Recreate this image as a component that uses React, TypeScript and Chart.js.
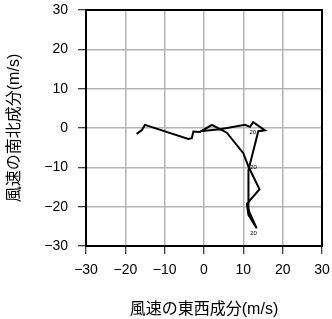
import React, { useEffect, useRef } from "react";
import { Chart, registerables } from "chart.js";

Chart.register(...registerables);

// Wind components (m/s): east-west (u) and north-south (v)
const uWind = [-17.1, -15.8, -15.0, -4.0, -3.1, -2.7, -1.0, 2.0, 5.8, 10.0, 11.3, 14.1, 10.9, 11.3, 13.4, 11.6, 11.4, 11.3, 13.8, 15.5, 12.5, 11.7, 10.4, 4.1, -1.0];
const vWind = [-1.5, -0.5, 0.8, -2.8, -2.6, -0.9, -1.0, 0.8, -1.2, -6.4, -9.8, -15.6, -19.3, -22.1, -25.5, -21.5, -20.8, -10.7, -0.8, -0.6, 1.5, 0.3, 0.8, -0.3, -0.8];

// small annotation labels along the trace
const noteText = ["20", "20", "20"];
const noteU = [12.6, 12.6, 12.4];
const noteV = [-9.9, -26.7, -1.2];

const axisTicks = [-30, -20, -10, 0, 10, 20, 30];

const xTitle = "風速の東西成分(m/s)";
const yTitle = "風速の南北成分(m/s)";

const FONT = "'Liberation Sans', Arial, 'Noto Sans CJK JP', sans-serif";

const framePlugin = {
  id: "frame",
  afterDatasetsDraw(chart: any) {
    const { ctx, chartArea, scales } = chart;
    ctx.save();
    ctx.fillStyle = "#000";
    ctx.font = `6px ${FONT}`;
    ctx.textAlign = "center";
    ctx.textBaseline = "middle";
    noteText.forEach((t, i) => {
      ctx.fillText(t, scales.x.getPixelForValue(noteU[i]), scales.y.getPixelForValue(noteV[i]));
    });
    ctx.strokeStyle = "#000";
    ctx.lineWidth = 2;
    ctx.strokeRect(chartArea.left, chartArea.top, chartArea.right - chartArea.left, chartArea.bottom - chartArea.top);
    ctx.restore();
  },
};

export default function App() {
  const ref = useRef<HTMLCanvasElement | null>(null);
  useEffect(() => {
    if (!ref.current) return;
    const fmt = (v: any) => {
      const n = Number(v);
      return n < 0 ? "\u2212" + Math.abs(n) : String(n);
    };
    const chart = new Chart(ref.current, {
      type: "scatter",
      data: {
        datasets: [
          {
            data: uWind.map((u, i) => ({ x: u, y: vWind[i] })),
            showLine: true,
            borderColor: "#000",
            borderWidth: 2,
            pointRadius: 0,
            tension: 0,
            fill: false,
          },
        ],
      },
      options: {
        animation: false,
        responsive: false,
        maintainAspectRatio: false,
        layout: { padding: { top: 10, right: 10, left: 0, bottom: 0 } },
        plugins: { legend: { display: false }, tooltip: { enabled: false } },
        scales: {
          x: {
            type: "linear",
            min: -30,
            max: 30,
            afterBuildTicks: (s: any) => {
              s.ticks = axisTicks.map((v) => ({ value: v }));
            },
            afterFit: (s: any) => {
              s.height = 73;
              s.paddingLeft = 0;
              s.paddingRight = 0;
            },
            grid: { color: "#b4b4b4", lineWidth: 1.5, tickColor: "#000", tickLength: 8, tickWidth: 1 },
            border: { display: true, color: "#000", width: 2 },
            ticks: { color: "#000", font: { family: FONT, size: 14 }, padding: 8, maxRotation: 0, callback: fmt },
            title: { display: true, text: xTitle, color: "#000", font: { family: FONT, size: 16 }, padding: { top: 5, bottom: 0 } },
          },
          y: {
            type: "linear",
            min: -30,
            max: 30,
            afterBuildTicks: (s: any) => {
              s.ticks = axisTicks.map((v) => ({ value: v }));
            },
            afterFit: (s: any) => {
              s.width = 86;
              s.paddingTop = 0;
              s.paddingBottom = 0;
            },
            grid: { color: "#b4b4b4", lineWidth: 1.5, tickColor: "#000", tickLength: 8, tickWidth: 1 },
            border: { display: true, color: "#000", width: 2 },
            ticks: { color: "#000", font: { family: FONT, size: 14 }, padding: 10, callback: fmt },
            title: { display: true, text: yTitle, color: "#000", font: { family: FONT, size: 16 }, padding: { top: 5, bottom: 0 } },
          },
        },
      },
      plugins: [framePlugin],
    });
    return () => chart.destroy();
  }, []);
  return (
    <div style={{ position: "fixed", left: 0, top: 0, width: 332, height: 319, background: "#fff" }}>
      <canvas ref={ref} width={332} height={319} style={{ display: "block" }} />
    </div>
  );
}
